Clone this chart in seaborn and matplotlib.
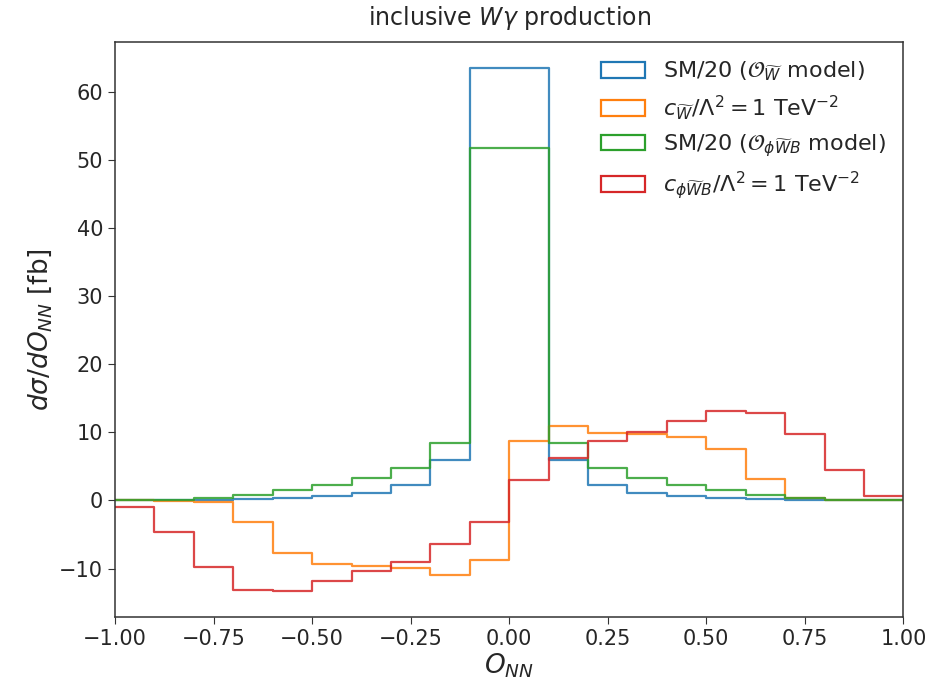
import numpy as np
import pandas as pd
import matplotlib
matplotlib.use("Agg")
import matplotlib.pyplot as plt
from matplotlib.patches import Patch
import seaborn as sns

# bin edges of O_NN (20 bins from -1 to 1)
edges = np.linspace(-1.0, 1.0, 21)

# dsigma/dO_NN per bin [fb]
sm_w = [0.0, 0.05, 0.1, 0.15, 0.35, 0.6, 1.1, 2.2, 5.9, 63.5,
        63.5, 5.9, 2.2, 1.1, 0.6, 0.35, 0.15, 0.1, 0.05, 0.0]
c_w = [0.0, -0.05, -0.3, -3.2, -7.7, -9.3, -9.6, -9.9, -11.0, -8.8,
       8.7, 10.9, 9.9, 9.7, 9.3, 7.6, 3.1, 0.4, 0.1, 0.0]
sm_phiwb = [0.0, 0.1, 0.4, 0.8, 1.5, 2.2, 3.3, 4.8, 8.4, 51.7,
            51.7, 8.4, 4.8, 3.3, 2.2, 1.5, 0.8, 0.4, 0.1, 0.0]
c_phiwb = [-0.9, -4.6, -9.8, -13.1, -13.3, -11.9, -10.3, -9.0, -6.4, -3.1,
           3.0, 6.3, 8.8, 10.1, 11.7, 13.1, 12.9, 9.8, 4.5, 0.7]

labels = [r"SM/20 ($\mathcal{O}_{\widetilde{W}}$ model)",
          r"$c_{\widetilde{W}}/\Lambda^2 = 1$ TeV$^{-2}$",
          r"SM/20 ($\mathcal{O}_{\phi\widetilde{W}B}$ model)",
          r"$c_{\phi\widetilde{W}B}/\Lambda^2 = 1$ TeV$^{-2}$"]
series = [sm_w, c_w, sm_phiwb, c_phiwb]
colors = sns.color_palette("tab10", 4)

centers = 0.5 * (edges[:-1] + edges[1:])

sns.set_style("ticks")
fig = plt.figure(figsize=(9.43, 6.88), dpi=100)
ax = fig.add_axes([0.122, 0.103, 0.836, 0.836])

for vals, col in zip(series, colors):
    df = pd.DataFrame({"x": centers, "w": vals})
    sns.histplot(data=df, x="x", weights="w", binwidth=0.1, binrange=(-1, 1),
                 element="step", fill=False, color=col, linewidth=1.6, alpha=0.85, ax=ax)

ticks = np.arange(-1, 1.01, 0.25)
ax.set_xlim(-1, 1)
ax.set_xticks(ticks)
ax.set_xticklabels([f"{t:.2f}".replace("-", "\u2212") for t in ticks])
ax.tick_params(labelsize=15, direction="out", length=5, color="#333333")
ax.set_title(r"inclusive $W\gamma$ production", fontsize=17, pad=12)
ax.set_xlabel(r"$O_{NN}$", fontsize=19, labelpad=2)
ax.set_ylabel(r"$d\sigma/dO_{NN}$ [fb]", fontsize=19)
for s in ax.spines.values():
    s.set_color("#333333")
    s.set_linewidth(1.1)

handles = [Patch(facecolor="none", edgecolor=c, linewidth=1.6) for c in colors]
ax.legend(handles, labels, loc="upper right", frameon=False, fontsize=16,
          borderaxespad=0.4, labelspacing=0.45)

fig.savefig("out.png", dpi=100)
